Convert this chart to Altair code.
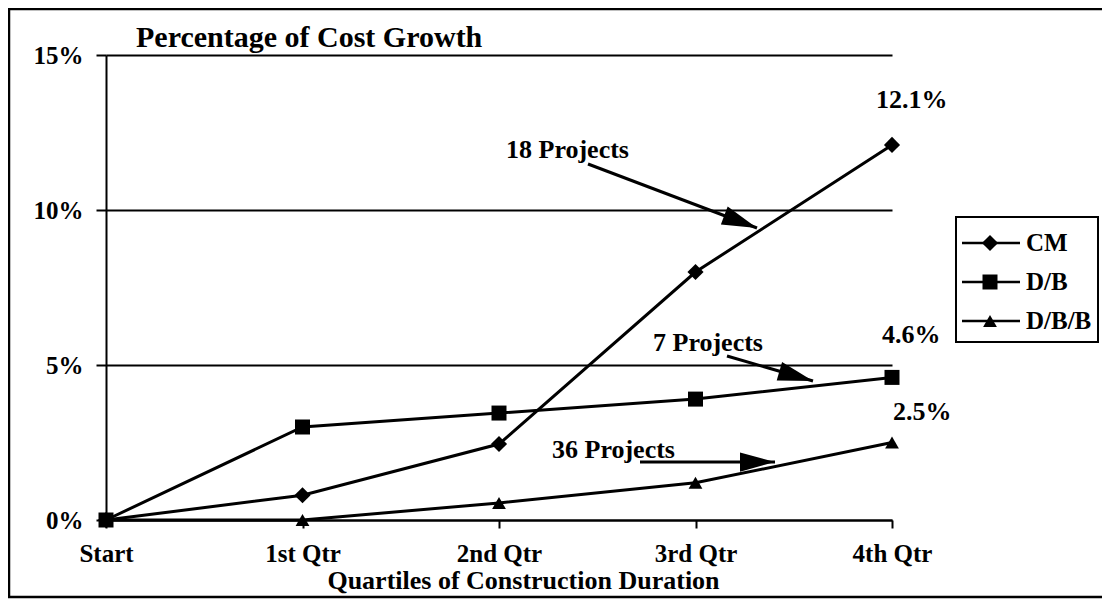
import json
import math
import altair as alt
import pandas as pd

# ---------------- data ----------------
categories = ["Start", "1st Qtr", "2nd Qtr", "3rd Qtr", "4th Qtr"]
series_names = ["CM", "D/B", "D/B/B"]
cm_values = [0.0, 0.8, 2.45, 8.0, 12.1]
db_values = [0.0, 3.0, 3.45, 3.9, 4.6]
dbb_values = [0.0, 0.0, 0.55, 1.2, 2.5]
end_labels = ["12.1%", "4.6%", "2.5%"]
annotation_texts = ["18 Projects", "7 Projects", "36 Projects"]
y_ticks = [0, 5, 10, 15]
chart_title = "Percentage of Cost Growth"
x_title = "Quartiles of Construction Duration"

# ---------------- layout ----------------
SERIF = "Liberation Serif"
W, H = 786, 465
PAD_L, PAD_T = 98, 47
TOTAL_W, TOTAL_H = 1094, 592
X_MAX = len(categories) - 1
Y_MAX = 15
OX = 8 + PAD_L   # page x of plot origin
OY = 8 + PAD_T   # page y of plot top


def px_to_x(px):
    return (px - OX) / W * X_MAX


def py_to_y(py):
    return (OY + H - py) / H * Y_MAX


rows = []
for name, vals in zip(series_names, [cm_values, db_values, dbb_values]):
    for i, v in enumerate(vals):
        rows.append({"series": name, "x": i, "value": v})
df = pd.DataFrame(rows)

label_expr = json.dumps(categories) + "[datum.value]"

x_enc = alt.X(
    "x:Q",
    scale=alt.Scale(domain=[0, X_MAX], nice=False, zero=False),
    axis=alt.Axis(
        values=list(range(len(categories))),
        labelExpr=label_expr,
        title=x_title,
        grid=False,
        tickSize=8,
        labelPadding=33,
        labelBaseline="alphabetic",
        labelFlush=False,
        labelOverlap=False,
        titleX=417,
        titleY=68,
        titleBaseline="alphabetic",
        titleAlign="center",
    ),
)
y_enc = alt.Y(
    "value:Q",
    scale=alt.Scale(domain=[0, Y_MAX], nice=False, zero=True),
    axis=alt.Axis(
        values=y_ticks,
        labelExpr="datum.value + '%'",
        title=None,
        grid=True,
        gridColor="black",
        gridWidth=2,
        gridOpacity=1,
        tickSize=10,
        labelPadding=13,
    ),
)
shape_enc = alt.Shape(
    "series:N",
    scale=alt.Scale(domain=series_names, range=["diamond", "square", "triangle-up"]),
    legend=None,
)
size_enc = alt.Size(
    "series:N",
    scale=alt.Scale(domain=series_names, range=[260, 190, 280]),
    legend=None,
)

base = alt.Chart(df)
lines = base.mark_line(color="black", strokeWidth=3).encode(
    x=x_enc, y=y_enc, detail="series:N"
)
points = base.mark_point(filled=True, color="black", opacity=1).encode(
    x=x_enc, y=y_enc, shape=shape_enc, size=size_enc
)

# end value labels (left x, centre y in page pixels)
end_pos = [(876, 100), (882, 335), (893, 412)]
end_df = pd.DataFrame(
    {
        "label": end_labels,
        "x": [px_to_x(p[0]) for p in end_pos],
        "value": [py_to_y(p[1]) for p in end_pos],
    }
)
end_text = alt.Chart(end_df).mark_text(
    align="left", baseline="middle", font=SERIF, fontSize=26, fontWeight="bold", color="black"
).encode(x=x_enc, y=y_enc, text="label:N")

# annotations
ann_pos = [(506, 150), (653, 343), (552, 450)]
ann_df = pd.DataFrame(
    {
        "label": annotation_texts,
        "x": [px_to_x(p[0]) for p in ann_pos],
        "value": [py_to_y(p[1]) for p in ann_pos],
    }
)
ann_text = alt.Chart(ann_df).mark_text(
    align="left", baseline="middle", font=SERIF, fontSize=26, fontWeight="bold", color="black"
).encode(x=x_enc, y=y_enc, text="label:N")

arrows_px = [((588, 164), (757, 228)), ((727, 356), (813, 381)), ((640, 462), (775, 462))]
arr_df = pd.DataFrame(
    {
        "x": [px_to_x(a[0][0]) for a in arrows_px],
        "value": [py_to_y(a[0][1]) for a in arrows_px],
        "x2": [px_to_x(a[1][0]) for a in arrows_px],
        "value2": [py_to_y(a[1][1]) for a in arrows_px],
    }
)
shafts = alt.Chart(arr_df).mark_rule(color="black", strokeWidth=3).encode(
    x=x_enc, y=y_enc, x2="x2:Q", y2="value2:Q"
)
head_df = pd.DataFrame(
    {
        "x": [px_to_x(a[1][0]) for a in arrows_px],
        "value": [py_to_y(a[1][1]) for a in arrows_px],
        "ang": [
            math.degrees(math.atan2(a[1][1] - a[0][1], a[1][0] - a[0][0])) % 360
            for a in arrows_px
        ],
    }
)
heads = alt.Chart(head_df).mark_point(
    shape="M0,0L-2,-0.55L-2,0.55Z", filled=True, color="black", opacity=1, size=1225
).encode(x=x_enc, y=y_enc, angle=alt.Angle("ang:Q", scale=None))

# title
one = pd.DataFrame({"a": [0]})
title = alt.Chart(one).mark_text(
    text=chart_title, align="left", baseline="alphabetic", font=SERIF, fontSize=30,
    fontWeight="bold", color="black",
).encode(x=alt.value(136 - OX), y=alt.value(47 - OY))

# outer frame
frame = alt.Chart(one).mark_rect(
    fillOpacity=0, stroke="black", strokeWidth=2.5
).encode(
    x=alt.value(9 - OX), x2=alt.value(1300), y=alt.value(9 - OY), y2=alt.value(597 - OY)
)

# legend
leg_rows_py = [243, 282, 321]
leg_df = pd.DataFrame(
    {"series": series_names, "value": [py_to_y(p) for p in leg_rows_py]}
)
leg_box = alt.Chart(one).mark_rect(
    fillOpacity=0, stroke="black", strokeWidth=2
).encode(
    x=alt.value(956 - OX), x2=alt.value(1098 - OX), y=alt.value(217 - OY), y2=alt.value(342 - OY)
)
leg_lines = alt.Chart(leg_df).mark_rule(color="black", strokeWidth=2.5).encode(
    x=alt.value(962 - OX), x2=alt.value(1020 - OX), y=y_enc
)
leg_pts = alt.Chart(leg_df).mark_point(filled=True, color="black", opacity=1).encode(
    x=alt.value(990 - OX), y=y_enc, shape=shape_enc, size=size_enc
)
leg_txt = alt.Chart(leg_df).mark_text(
    align="left", baseline="middle", font=SERIF, fontSize=25, fontWeight="bold", color="black"
).encode(x=alt.value(1026 - OX), y=y_enc, text="series:N")

chart = (
    alt.layer(
        lines, points, shafts, heads, ann_text, end_text, title, frame,
        leg_box, leg_lines, leg_pts, leg_txt,
    )
    .properties(
        width=W,
        height=H,
        autosize=alt.AutoSizeParams(type="none"),
        padding={"left": PAD_L, "top": PAD_T, "right": TOTAL_W - PAD_L - W, "bottom": TOTAL_H - PAD_T - H},
        background="white",
    )
    .configure_view(stroke=None)
    .configure_axis(
        domainColor="black",
        domainWidth=2,
        tickColor="black",
        tickWidth=2,
        labelFont=SERIF,
        labelFontSize=25,
        labelFontWeight="bold",
        labelColor="black",
        titleFont=SERIF,
        titleFontSize=26,
        titleFontWeight="bold",
        titleColor="black",
    )
)

chart.save("out.html", embed_options={"renderer": "svg", "actions": False})
